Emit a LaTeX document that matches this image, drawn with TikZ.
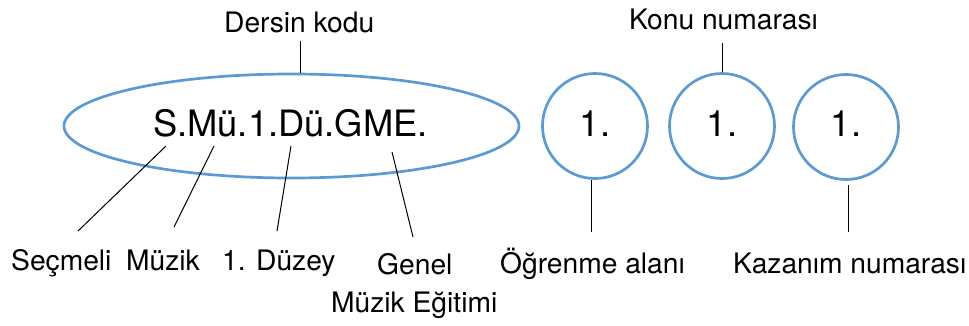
\documentclass[tikz,border=0pt]{standalone}
\usepackage{fontspec}
\setmainfont{TeX Gyre Heros}
\usetikzlibrary{shapes.geometric}
\definecolor{blu}{HTML}{5B9BD5}
\begin{document}
\begin{tikzpicture}[x=1pt,y=-1pt,
  outl/.style={draw=blu, line width=2.7pt, inner sep=0pt},
  lbl/.style={font=\fontsize{28.2}{30}\selectfont, inner sep=0pt, anchor=base west},
  big/.style={font=\fontsize{36.3}{40}\selectfont, inner sep=0pt, anchor=base west},
  conn/.style={draw=black, line width=1pt}]
\useasboundingbox (0,0) rectangle (969,325);
% shapes
\node[ellipse, outl, minimum width=455pt, minimum height=104pt] (code) at (291.5,126) {};
\node[circle, outl, minimum size=105pt] (c1) at (595,126) {};
\node[circle, outl, minimum size=105pt] (c2) at (722,126) {};
\node[circle, outl, minimum size=105pt] (c3) at (846,127) {};
% texts
\node[big] (codetxt) at (153,136) {S.Mü.1.Dü.GME.};
\node[big, anchor=base] (n1) at (595,136) {1.};
\node[big, anchor=base] (n2) at (722,136) {1.};
\node[big, anchor=base] (n3) at (846,136) {1.};
\node[lbl] (dk) at (224,32) {Dersin kodu};
\node[lbl] (konu) at (629,29) {Konu numarası};
\node[lbl] (sec) at (11,270) {Seçmeli};
\node[lbl] (muz) at (126,270) {Müzik};
\node[lbl] (duz) at (222,270) {1. Düzey};
\node[lbl] (gen) at (377,274) {Genel};
\node[lbl] (gme) at (331,312) {Müzik Eğitimi};
\node[lbl] (og) at (500,273) {Öğrenme alanı};
\node[lbl] (kaz) at (733,273) {Kazanım numarası};
% connector end points
\coordinate (a1) at (166,146); \coordinate (b1) at (78,231);
\coordinate (a2) at (214,146); \coordinate (b2) at (174,227);
\coordinate (a3) at (291,146); \coordinate (b3) at (277,231);
\coordinate (a4) at (392,152); \coordinate (b4) at (413,237);
\coordinate (dkb) at (300,41);
\coordinate (knb) at (722,43);
\coordinate (ogb) at (591,232);
\coordinate (kzt) at (848,185);
\coordinate (kzb) at (848,232);
% connectors
\draw[conn] (a1) -- (b1);
\draw[conn] (a2) -- (b2);
\draw[conn] (a3) -- (b3);
\draw[conn] (a4) -- (b4);
\draw[conn] (dkb) -- (dkb |- code.north);
\draw[conn] (knb) -- (c2.north);
\draw[conn] (ogb |- c1.south) -- (ogb);
\draw[conn] (kzt) -- (kzb);
\end{tikzpicture}
\end{document}
